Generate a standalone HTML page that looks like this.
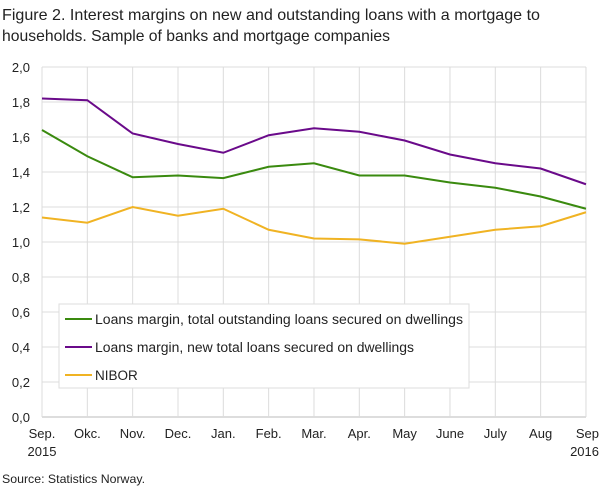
<!DOCTYPE html>
<html><head><meta charset="utf-8"><style>
body{margin:0;background:#fff;}
svg text{font-family:"Liberation Sans",sans-serif;fill:#222;}
</style></head><body>
<svg id="c" width="609" height="489" xmlns="http://www.w3.org/2000/svg">
<text x="2" y="20" font-size="16" textLength="538" lengthAdjust="spacingAndGlyphs">Figure 2. Interest margins on new and outstanding loans with a mortgage to</text>
<text x="2" y="41" font-size="16" textLength="388" lengthAdjust="spacingAndGlyphs">households. Sample of banks and mortgage companies</text>
<g id="grid"></g>
<g id="lines"></g>
<rect x="59" y="304" width="410" height="84" fill="#fff" stroke="#ddd"/>
<line x1="65" y1="319" x2="92" y2="319" stroke="#3a8a0f" stroke-width="2"/>
<line x1="65" y1="347" x2="92" y2="347" stroke="#6a0a8a" stroke-width="2"/>
<line x1="65" y1="375" x2="92" y2="375" stroke="#f0b323" stroke-width="2"/>
<text x="95" y="324" font-size="13.5" textLength="368" lengthAdjust="spacingAndGlyphs">Loans margin, total outstanding loans secured on dwellings</text>
<text x="95" y="352" font-size="13.5" textLength="319" lengthAdjust="spacingAndGlyphs">Loans margin, new total loans secured on dwellings</text>
<text x="95" y="380" font-size="13.5">NIBOR</text>
<text x="2" y="483" font-size="12" textLength="143" lengthAdjust="spacingAndGlyphs">Source: Statistics Norway.</text>
</svg>
<script>
var ns="http://www.w3.org/2000/svg",g=document.getElementById('grid'),L=document.getElementById('lines');
function el(p,t,a,txt){var e=document.createElementNS(ns,t);for(var k in a)e.setAttribute(k,a[k]);if(txt)e.textContent=txt;p.appendChild(e);return e;}
var x0=42,dx=45.33,Y=function(v){return 417-v*175;};
for(var i=0;i<=10;i++){var y=Y(i/5);el(g,'line',{x1:x0,x2:586,y1:y,y2:y,stroke:i==0?'#bbb':'#dcdcdc','stroke-width':1});
el(g,'text',{x:30,y:y+5,'font-size':13,'text-anchor':'end'},(i/5).toFixed(1).replace('.',','));}
var m=['Sep.','Okc.','Nov.','Dec.','Jan.','Feb.','Mar.','Apr.','May','June','July','Aug','Sep'];
for(var i=0;i<13;i++){var x=x0+i*dx;el(g,'line',{x1:x,x2:x,y1:Y(2),y2:417,stroke:'#dcdcdc'});
el(g,'text',{x:i==12?599:x,y:438,'font-size':13,'text-anchor':i==12?'end':'middle'},m[i]);}
el(g,'text',{x:42,y:456,'font-size':13,'text-anchor':'middle'},'2015');
el(g,'text',{x:599,y:456,'font-size':13,'text-anchor':'end'},'2016');
var d=[['#3a8a0f',[1.64,1.49,1.37,1.38,1.365,1.43,1.45,1.38,1.38,1.34,1.31,1.26,1.19]],
['#6a0a8a',[1.82,1.81,1.62,1.56,1.51,1.61,1.65,1.63,1.58,1.50,1.45,1.42,1.33]],
['#f0b323',[1.14,1.11,1.20,1.15,1.19,1.07,1.02,1.015,0.99,1.03,1.07,1.09,1.17]]];
d.forEach(function(s){el(L,'polyline',{points:s[1].map(function(v,i){return (x0+i*dx)+','+Y(v)}).join(' '),fill:'none',stroke:s[0],'stroke-width':2});});
</script>
</body></html>
